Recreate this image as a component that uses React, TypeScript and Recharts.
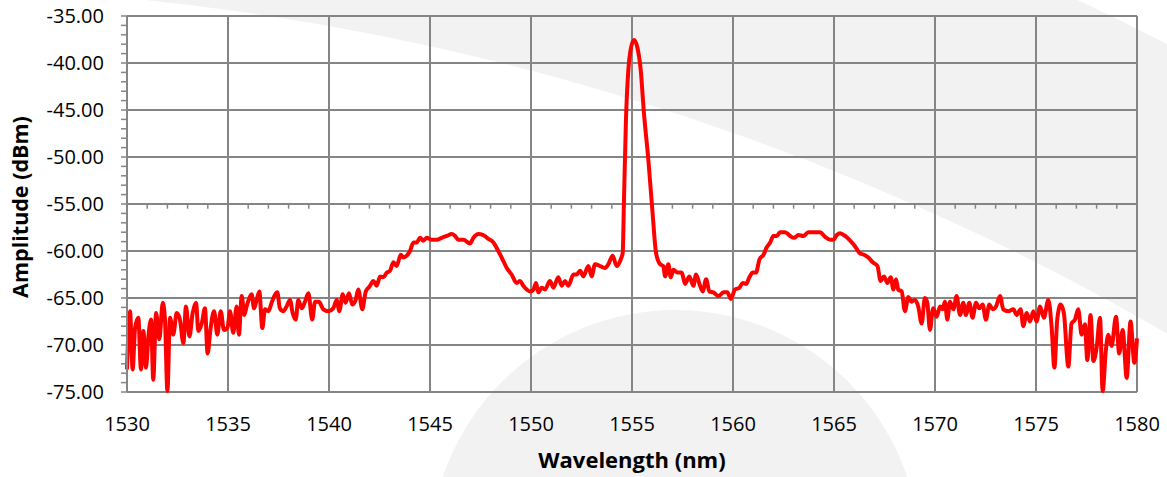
import React from "react";
import { LineChart, Line, XAxis, YAxis, ReferenceLine } from "recharts";

const wavelengths: number[] = [
  1530.0, 1530.15, 1530.28, 1530.4, 1530.56, 1530.69, 1530.81, 1530.94, 1531.06, 1531.19,
  1531.3, 1531.44, 1531.6, 1531.77, 1531.88, 1532.0, 1532.13, 1532.29, 1532.46, 1532.62,
  1532.79, 1532.92, 1533.09, 1533.25, 1533.42, 1533.53, 1533.7, 1533.86, 1533.99, 1534.14,
  1534.31, 1534.47, 1534.64, 1534.8, 1534.97, 1535.1, 1535.26, 1535.43, 1535.54, 1535.68,
  1535.81, 1535.92, 1536.06, 1536.17, 1536.29, 1536.42, 1536.55, 1536.7, 1536.83, 1537.0,
  1537.16, 1537.29, 1537.44, 1537.57, 1537.74, 1537.9, 1538.07, 1538.2, 1538.35, 1538.48,
  1538.65, 1538.81, 1538.98, 1539.17, 1539.31, 1539.5, 1539.72, 1539.97, 1540.21, 1540.38,
  1540.51, 1540.68, 1540.82, 1540.99, 1541.15, 1541.32, 1541.45, 1541.65, 1541.82, 1542.0,
  1542.2, 1542.36, 1542.53, 1542.69, 1542.86, 1543.02, 1543.19, 1543.35, 1543.55, 1543.68,
  1543.85, 1544.01, 1544.18, 1544.34, 1544.51, 1544.67, 1544.84, 1545.08, 1545.33, 1545.58,
  1545.83, 1546.07, 1546.24, 1546.4, 1546.65, 1546.98, 1547.15, 1547.39, 1547.64, 1547.89,
  1548.14, 1548.38, 1548.55, 1548.8, 1549.04, 1549.29, 1549.46, 1549.62, 1549.79, 1549.95,
  1550.12, 1550.25, 1550.36, 1550.53, 1550.69, 1550.94, 1551.11, 1551.35, 1551.52, 1551.68,
  1551.85, 1552.1, 1552.26, 1552.43, 1552.59, 1552.84, 1553.0, 1553.17, 1553.42, 1553.66,
  1553.83, 1554.04, 1554.24, 1554.44, 1554.54,
  1554.6, 1554.7, 1554.82, 1554.93, 1555.1, 1555.26, 1555.43, 1555.59, 1555.81, 1556.02, 1556.19,
  1556.39, 1556.55, 1556.64, 1556.8, 1556.92, 1557.05, 1557.25, 1557.46, 1557.63, 1557.84,
  1558.04, 1558.17, 1558.34, 1558.5, 1558.67, 1558.83, 1559.03, 1559.28, 1559.53, 1559.72,
  1559.89, 1560.1, 1560.32, 1560.48, 1560.65, 1560.81, 1560.98, 1561.14, 1561.31, 1561.51,
  1561.67, 1561.84, 1562.0, 1562.17, 1562.33, 1562.58, 1562.83, 1563.02, 1563.24, 1563.49,
  1563.73, 1563.98, 1564.31, 1564.56, 1564.81, 1564.97, 1565.14, 1565.3, 1565.55, 1565.8,
  1566.04, 1566.26, 1566.49, 1566.7, 1566.92, 1567.15, 1567.31, 1567.48, 1567.64, 1567.81,
  1567.94, 1568.07,
  1568.18, 1568.35, 1568.51, 1568.68, 1568.84, 1569.01, 1569.17, 1569.34, 1569.5, 1569.62,
  1569.75, 1569.91, 1570.08, 1570.25, 1570.38, 1570.49, 1570.61, 1570.74, 1570.91, 1571.07,
  1571.24, 1571.4, 1571.53, 1571.7, 1571.86, 1572.03, 1572.19, 1572.36, 1572.52, 1572.69,
  1572.85, 1573.02, 1573.22, 1573.38, 1573.63, 1573.88, 1574.04, 1574.24, 1574.37, 1574.54,
  1574.7, 1574.87, 1575.03, 1575.2, 1575.39, 1575.61, 1575.77, 1575.91, 1576.05, 1576.22,
  1576.38, 1576.6, 1576.76, 1576.93, 1577.09, 1577.26, 1577.42, 1577.54, 1577.7, 1577.84,
  1578.0, 1578.17, 1578.3, 1578.46, 1578.58, 1578.74, 1578.96, 1579.12, 1579.29, 1579.49,
  1579.68, 1579.87, 1580.0,
];

const amplitudes: number[] = [
  -72.6, -66.4, -72.6, -68.2, -67.1, -72.6, -68.5, -72.4, -69.1, -67.3,
  -73.7, -66.6, -69.4, -65.5, -67.3, -74.9, -67.1, -68.9, -66.6, -67.3,
  -69.8, -65.9, -69.1, -66.6, -65.5, -68.5, -67.7, -66.1, -70.9, -68.2,
  -66.4, -68.9, -66.4, -68.4, -68.2, -66.4, -68.7, -65.9, -68.9, -64.8,
  -66.8, -65.9, -65.0, -64.6, -66.1, -65.2, -64.3, -68.2, -66.2, -66.4,
  -65.5, -64.8, -64.4, -66.1, -66.4, -65.9, -65.2, -66.6, -67.3, -65.2,
  -66.1, -65.4, -64.5, -67.3, -65.4, -65.4, -66.2, -66.4, -66.1, -65.2,
  -66.4, -64.6, -65.5, -64.5, -65.7, -65.2, -64.1, -66.2, -64.3, -63.8,
  -63.2, -63.7, -62.7, -62.8, -62.3, -62.1, -61.2, -61.6, -60.4, -60.7,
  -60.5, -60.0, -59.1, -59.1, -58.6, -58.9, -58.6, -58.8, -58.8, -58.6,
  -58.4, -58.2, -58.4, -58.8, -58.8, -59.2, -58.6, -58.2, -58.3, -58.7,
  -59.1, -60.0, -60.7, -61.8, -62.5, -63.4, -63.2, -63.7, -64.1, -64.3,
  -64.1, -63.4, -64.4, -63.9, -64.1, -63.2, -63.9, -62.8, -63.7, -63.2,
  -63.7, -62.5, -62.5, -62.1, -62.7, -61.6, -62.7, -61.4, -61.6, -61.8,
  -61.4, -60.5, -61.6, -60.9, -60.2,
  -54.9, -46.1, -40.7, -38.6, -37.55, -38.3, -40.7, -45.3, -50.3, -56.0, -60.2,
  -61.4, -61.6, -62.7, -61.4, -62.8, -62.0, -62.3, -62.3, -63.5, -62.7,
  -63.7, -62.5, -63.5, -64.3, -63.0, -64.3, -64.4, -64.8, -64.4, -64.4,
  -65.1, -64.1, -63.9, -63.4, -63.5, -62.8, -62.3, -62.3, -60.9, -60.4,
  -59.6, -59.1, -58.4, -58.4, -58.0, -58.0, -58.4, -58.6, -58.3, -58.4,
  -58.0, -58.0, -58.0, -58.5, -58.8, -58.8, -58.3, -58.1, -58.4, -58.9,
  -59.5, -60.2, -60.4, -60.7, -61.2, -61.6, -63.2, -62.7, -63.4, -62.8,
  -64.1, -63.0,
  -64.1, -64.3, -66.4, -64.9, -65.4, -65.2, -65.9, -67.7, -65.0, -65.5,
  -68.4, -66.1, -67.0, -65.9, -66.2, -65.4, -67.3, -65.4, -66.2, -64.8,
  -66.8, -65.5, -66.8, -65.5, -67.1, -65.5, -66.1, -65.7, -67.3, -65.7,
  -66.2, -65.9, -64.8, -66.2, -66.4, -66.2, -66.8, -66.2, -68.0, -66.6,
  -67.5, -66.4, -67.5, -65.9, -67.1, -65.2, -68.0, -72.4, -67.3, -65.7,
  -66.6, -72.3, -67.7, -67.3, -66.2, -68.9, -67.8, -71.6, -66.8, -71.7,
  -70.3, -67.1, -74.9, -70.5, -68.9, -70.1, -67.0, -70.9, -68.4, -73.5,
  -67.5, -71.9, -69.3,
];

const xTicks: number[] = [1530, 1535, 1540, 1545, 1550, 1555, 1560, 1565, 1570, 1575, 1580];
const yMajor: number[] = [-75, -70, -65, -60, -55, -50, -45, -40, -35];
const yAllTicks: number[] = Array.from({ length: 41 }, (_, i) => -75 + i);
const xMinor: number[] = Array.from({ length: 49 }, (_, i) => 1531 + i).filter((v) => v % 5 !== 0);
const xAxisCross = -55;

const data = wavelengths.map((wl, i) => ({ wl, amp: amplitudes[i] }));

const FONT = "'Open Sans', 'DejaVu Sans', sans-serif";
const GRID = "#858585";

const YTick = (props: any) => {
  const { x, y, payload } = props;
  const v = payload.value;
  if (v % 5 !== 0) return <g />;
  return (
    <text x={x} y={y} dy="0.355em" textAnchor="end" fontFamily={FONT} fontSize={20} fill="#000">
      {v.toFixed(2)}
    </text>
  );
};

const XTick = (props: any) => {
  const { x, y, payload } = props;
  return (
    <text x={x} y={y} dy="0.71em" textAnchor="middle" fontFamily={FONT} fontSize={20} fill="#000">
      {payload.value}
    </text>
  );
};

export default function App() {
  return (
    <div style={{ position: "absolute", left: 0, top: 0, width: 1167, height: 477, background: "#fff", overflow: "hidden" }}>
      <svg width={1167} height={477} style={{ position: "absolute", left: 0, top: 0 }}>
        <circle cx={-122} cy={2550} r={2818} fill="#f2f2f2" />
        <circle cx={-122} cy={2550} r={2564} fill="#ffffff" />
        <circle cx={675} cy={555} r={245} fill="#f2f2f2" />
      </svg>
      <div style={{ position: "absolute", left: 0, top: 0 }}>
        <LineChart width={1167} height={477} data={data} margin={{ top: 16, right: 30, bottom: 0, left: 0 }}>
          <XAxis
            dataKey="wl"
            type="number"
            domain={[1530, 1580]}
            ticks={xTicks}
            height={85}
            axisLine={false}
            tickLine={false}
            tickSize={0}
            tickMargin={25}
            tick={<XTick />}
            interval={0}
          />
          <YAxis
            type="number"
            domain={[-75, -35]}
            ticks={yAllTicks}
            width={127}
            axisLine={{ stroke: GRID, strokeWidth: 2 }}
            tickLine={{ stroke: GRID, strokeWidth: 1.5 }}
            tickSize={6}
            tickMargin={17}
            tick={<YTick />}
            interval={0}
          />
          {yMajor.map((v) => (
            <ReferenceLine key={"h" + v} y={v} stroke={GRID} strokeWidth={2} />
          ))}
          {xTicks.map((v) => (
            <ReferenceLine key={"v" + v} x={v} stroke={GRID} strokeWidth={2} />
          ))}
          {xMinor.map((v) => (
            <ReferenceLine
              key={"m" + v}
              segment={[{ x: v, y: xAxisCross }, { x: v, y: xAxisCross - 0.5 }]}
              stroke={GRID}
              strokeWidth={1.5}
            />
          ))}
          <Line
            type="monotone"
            dataKey="amp"
            stroke="#ff0000"
            strokeWidth={4}
            dot={false}
            isAnimationActive={false}
          />
        </LineChart>
      </div>
      <svg width={1167} height={477} style={{ position: "absolute", left: 0, top: 0, pointerEvents: "none" }}>
        <text x={632} y={468} textAnchor="middle" fontFamily={FONT} fontWeight="bold" fontSize={22} fill="#000">
          Wavelength (nm)
        </text>
        <text
          x={0}
          y={0}
          transform="translate(28,207) rotate(-90)"
          textAnchor="middle"
          fontFamily={FONT}
          fontWeight="bold"
          fontSize={21.5}
          fill="#000"
        >
          Amplitude (dBm)
        </text>
      </svg>
    </div>
  );
}
